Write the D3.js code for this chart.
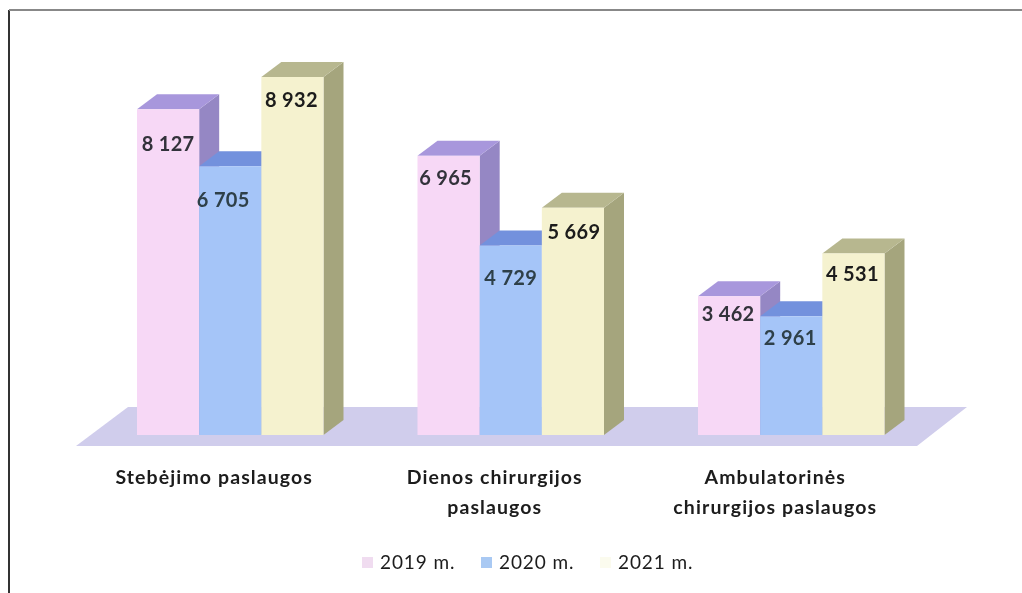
<!DOCTYPE html>
<html>
<head>
<meta charset="utf-8">
<script src="https://cdn.jsdelivr.net/npm/d3@7"></script>
<style>
  html, body { margin: 0; padding: 0; background: #fff; }
  svg { display: block; }
  text { font-family: Lato, "Open Sans", sans-serif; fill: #1c1c1c; }
</style>
</head>
<body>
<svg id="chart" width="1022" height="593"></svg>
<script>
const categories = ['Stebėjimo paslaugos', 'Dienos chirurgijos paslaugos', 'Ambulatorinės chirurgijos paslaugos'];
const categoryLines = [['Stebėjimo paslaugos'], ['Dienos chirurgijos', 'paslaugos'], ['Ambulatorinės', 'chirurgijos paslaugos']];
const seriesNames = ['2019 m.', '2020 m.', '2021 m.'];
const values2019 = [8127, 6965, 3462];
const values2020 = [6705, 4729, 2961];
const values2021 = [8932, 5669, 4531];
const valueLabels = [['8 127', '6 965', '3 462'], ['6 705', '4 729', '2 961'], ['8 932', '5 669', '4 531']];

const frontColors = ['#f7d8f6', '#a5c5f8', '#f5f2cf'];
const topColors = ['#a897dc', '#7391dd', '#b7b78f'];
const sideColors = ['#9587c4', '#6f8ad2', '#a5a57d'];
const legendColors = ['#f0dcf0', '#a9c9f3', '#fbfbee'];
const labelColors = ['#33333a', '#2f4048', '#1a1a1a'];

// the labels were placed by hand in the original chart: [dx, dy] from bar centre / bar top
const labelNudge = [
  [[0, 42], [-3, 29], [-1, 25]],
  [[-7, 41], [0, 40], [-1, 29]],
  [[-1, 30], [1, 31], [-1, 28]],
];

const root = d3.select('#chart');

// the reference is a scan, so everything is a little soft
root.append('defs').append('filter')
  .attr('id', 'scan')
  .attr('filterUnits', 'userSpaceOnUse')
  .attr('x', 0).attr('y', 0).attr('width', 1022).attr('height', 593)
  .append('feGaussianBlur').attr('stdDeviation', 0.5);

const svg = root.append('g').attr('filter', 'url(#scan)');

const depthX = 20;
const depthY = 15;
const baseY = 435;

const x0 = d3.scaleBand().domain(categories).range([67, 908.5]);
const x1 = d3.scaleBand().domain(seriesNames).range([70, 256.5]);
const y = d3.scaleLinear().domain([0, 8932]).range([baseY, 77]);

const line = d3.line();

// page frame of the scan
svg.append('path').attr('d', line([[9, 593], [9, 10]])).attr('fill', 'none').attr('stroke', '#333').attr('stroke-width', 2);
svg.append('path').attr('d', line([[9, 10], [1022, 10]])).attr('fill', 'none').attr('stroke', '#888').attr('stroke-width', 2);

// floor
svg.append('path')
  .attr('d', line([[76, 446], [128, 407], [967, 407], [917, 446]]) + 'Z')
  .attr('fill', '#d0cdec');

const allValues = [values2019, values2020, values2021];
const bars = svg.append('g');

categories.forEach((cat, c) => {
  seriesNames.forEach((name, s) => {
    const left = x0(cat) + x1(name);
    const right = left + x1.bandwidth();
    const top = y(allValues[s][c]);
    const g = bars.append('g');

    g.append('path')
      .attr('d', line([[right, top], [right + depthX, top - depthY], [right + depthX, baseY - depthY], [right, baseY]]) + 'Z')
      .attr('fill', sideColors[s]);
    g.append('path')
      .attr('d', line([[left, top], [left + depthX, top - depthY], [right + depthX, top - depthY], [right, top]]) + 'Z')
      .attr('fill', topColors[s]);
    g.append('rect')
      .attr('x', left).attr('y', top)
      .attr('width', x1.bandwidth()).attr('height', baseY - top)
      .attr('fill', frontColors[s]);
  });
});

// value labels go on top of all the bars
categories.forEach((cat, c) => {
  seriesNames.forEach((name, s) => {
    const left = x0(cat) + x1(name);
    const [dx, dy] = labelNudge[s][c];
    svg.append('text')
      .attr('x', left + x1.bandwidth() / 2 + dx)
      .attr('y', y(allValues[s][c]) + dy)
      .attr('text-anchor', 'middle')
      .attr('font-size', 20)
      .attr('font-weight', 700)
      .attr('letter-spacing', 0.3)
      .style('fill', labelColors[s])
      .text(valueLabels[s][c]);
  });
});

// category labels
categories.forEach((cat, c) => {
  const cx = x0(cat) + x0.bandwidth() / 2 + 7;
  categoryLines[c].forEach((txt, i) => {
    svg.append('text')
      .attr('x', cx)
      .attr('y', 484 + i * 30)
      .attr('text-anchor', 'middle')
      .attr('font-size', 19.5)
      .attr('font-weight', 700)
      .attr('letter-spacing', 1.1)
      .text(txt);
  });
});

// legend
const legendX = d3.scalePoint().domain(seriesNames).range([362, 600]);
seriesNames.forEach((name, s) => {
  svg.append('rect')
    .attr('x', legendX(name)).attr('y', 557)
    .attr('width', 11).attr('height', 11)
    .attr('fill', legendColors[s]);
  svg.append('text')
    .attr('x', legendX(name) + 18)
    .attr('y', 569)
    .attr('font-size', 19)
    .attr('letter-spacing', 0.9)
    .text(name);
});
</script>
</body>
</html>
